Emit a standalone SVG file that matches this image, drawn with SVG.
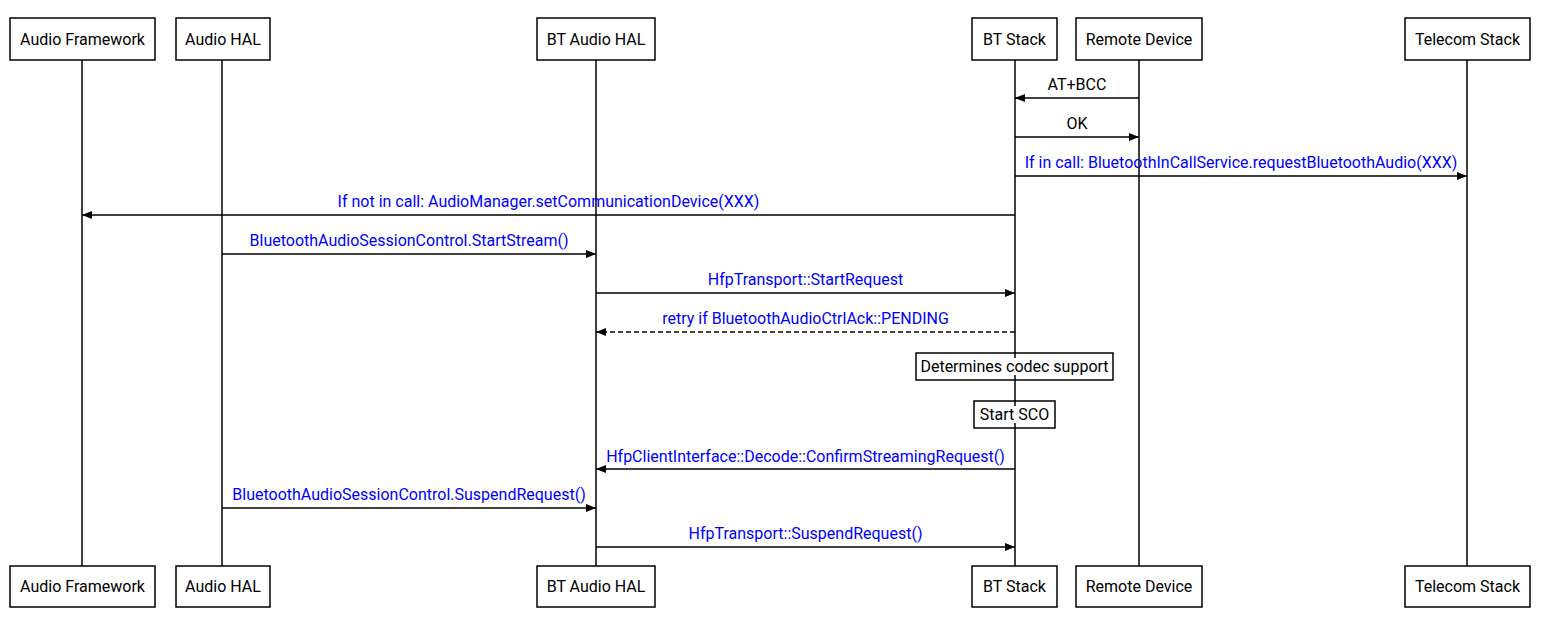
<svg xmlns="http://www.w3.org/2000/svg" width="1560" height="626" viewBox="0 0 1560 626">
<style>
.box{fill:#fff;stroke:#000;stroke-width:1.5}
.note{fill:none;stroke:#000;stroke-width:1.5}
.tbg{fill:#fff}
.life{stroke:#000;stroke-width:1.5}
.t{font-family:Roboto,"Liberation Sans",sans-serif;font-size:16px;fill:#000;text-anchor:middle}
.b{fill:#0000ff}
.msg{stroke:#000;stroke-width:1.5;fill:none}
.dash{stroke-dasharray:5,3}
</style>
<defs>
<marker id="ah" viewBox="0 0 10 10" refX="10" refY="5" markerWidth="10" markerHeight="10" markerUnits="userSpaceOnUse" orient="auto">
<path d="M0,1 L10,5 L0,9 z" fill="#000"/>
</marker>
</defs>
<rect width="1560" height="626" fill="#fff"/>
<g id="lifelines">
<line class="life" x1="82" y1="60" x2="82" y2="566"/>
<line class="life" x1="222" y1="60" x2="222" y2="566"/>
<line class="life" x1="596" y1="60" x2="596" y2="566"/>
<line class="life" x1="1015" y1="60" x2="1015" y2="566"/>
<line class="life" x1="1139" y1="60" x2="1139" y2="566"/>
<line class="life" x1="1467" y1="60" x2="1467" y2="566"/>
</g>
<g id="audio-framework">
<rect class="box" x="10" y="18" width="145" height="42"/><text class="t" x="82.5" y="45">Audio Framework</text>
<rect class="box" x="10" y="566" width="145" height="41"/><text class="t" x="82.5" y="592">Audio Framework</text>
</g>
<g id="audio-hal">
<rect class="box" x="176" y="18" width="94" height="42"/><text class="t" x="223" y="45">Audio HAL</text>
<rect class="box" x="176" y="566" width="94" height="41"/><text class="t" x="223" y="592">Audio HAL</text>
</g>
<g id="bt-audio-hal">
<rect class="box" x="537" y="18" width="118" height="42"/><text class="t" x="596" y="45">BT Audio HAL</text>
<rect class="box" x="537" y="566" width="118" height="41"/><text class="t" x="596" y="592">BT Audio HAL</text>
</g>
<g id="bt-stack">
<rect class="box" x="972" y="18" width="85" height="42"/><text class="t" x="1014.5" y="45">BT Stack</text>
<rect class="box" x="972" y="566" width="85" height="41"/><text class="t" x="1014.5" y="592">BT Stack</text>
</g>
<g id="remote-device">
<rect class="box" x="1076" y="18" width="126" height="42"/><text class="t" x="1139" y="45">Remote Device</text>
<rect class="box" x="1076" y="566" width="126" height="41"/><text class="t" x="1139" y="592">Remote Device</text>
</g>
<g id="telecom-stack">
<rect class="box" x="1405" y="18" width="125" height="42"/><text class="t" x="1467.5" y="45">Telecom Stack</text>
<rect class="box" x="1405" y="566" width="125" height="41"/><text class="t" x="1467.5" y="592">Telecom Stack</text>
</g>
<g id="note-codec">
<rect class="note" x="916" y="353" width="197" height="27"/>
<rect class="tbg" x="919" y="358" width="191" height="17"/>
<text class="t" x="1014.5" y="372">Determines codec support</text>
</g>
<g id="note-sco">
<rect class="note" x="974" y="401" width="81" height="27"/>
<rect class="tbg" x="977" y="406" width="75" height="17"/>
<text class="t" x="1014.5" y="420">Start SCO</text>
</g>
<g id="connectors">
<line class="msg" x1="1139" y1="98" x2="1015" y2="98" marker-end="url(#ah)"/>
<text class="t" x="1077" y="90">AT+BCC</text>
<line class="msg" x1="1015" y1="137" x2="1139" y2="137" marker-end="url(#ah)"/>
<text class="t" x="1077" y="129">OK</text>
<line class="msg" x1="1015" y1="176" x2="1467" y2="176" marker-end="url(#ah)"/>
<text class="t b" x="1241" y="168">If in call: BluetoothInCallService.requestBluetoothAudio(XXX)</text>
<line class="msg" x1="1015" y1="215" x2="82" y2="215" marker-end="url(#ah)"/>
<text class="t b" x="548.5" y="207">If not in call: AudioManager.setCommunicationDevice(XXX)</text>
<line class="msg" x1="222" y1="254" x2="596" y2="254" marker-end="url(#ah)"/>
<text class="t b" x="409" y="246">BluetoothAudioSessionControl.StartStream()</text>
<line class="msg" x1="596" y1="293" x2="1015" y2="293" marker-end="url(#ah)"/>
<text class="t b" x="805.5" y="285">HfpTransport::StartRequest</text>
<line class="msg dash" x1="1015" y1="332" x2="596" y2="332" marker-end="url(#ah)"/>
<text class="t b" x="805.5" y="324">retry if BluetoothAudioCtrlAck::PENDING</text>
<line class="msg" x1="1015" y1="469" x2="596" y2="469" marker-end="url(#ah)"/>
<text class="t b" x="805.5" y="462">HfpClientInterface::Decode::ConfirmStreamingRequest()</text>
<line class="msg" x1="222" y1="508" x2="596" y2="508" marker-end="url(#ah)"/>
<text class="t b" x="409" y="500">BluetoothAudioSessionControl.SuspendRequest()</text>
<line class="msg" x1="596" y1="547" x2="1015" y2="547" marker-end="url(#ah)"/>
<text class="t b" x="805.5" y="539">HfpTransport::SuspendRequest()</text>
</g>
</svg>
